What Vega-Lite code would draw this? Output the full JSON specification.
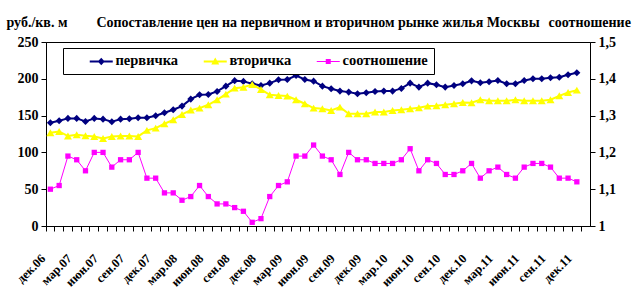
{
  "$schema": "https://vega.github.io/schema/vega-lite/v6.json",
  "width": 544,
  "height": 184,
  "autosize": {"type": "none"},
  "padding": {"left": 46, "top": 42, "right": 46, "bottom": 66},
  "background": "white",
  "title": {
    "text": "Сопоставление цен на первичном и вторичном рынке жилья Москвы",
    "anchor": "middle",
    "frame": "group",
    "font": "Liberation Serif",
    "fontSize": 14,
    "fontWeight": "bold",
    "color": "black",
    "offset": 4,
    "dy": 19
  },
  "config": {
    "locale": {"number": {"decimal": ",", "thousands": " ", "grouping": [3], "currency": ["", ""]}},
    "view": {"stroke": "black", "strokeWidth": 1},
    "axis": {
      "domainColor": "black",
      "tickColor": "black",
      "labelColor": "black",
      "titleColor": "black",
      "labelFont": "Liberation Serif",
      "titleFont": "Liberation Serif",
      "labelFontWeight": "bold",
      "titleFontWeight": "bold",
      "grid": false
    }
  },
  "data": {
    "values": [
      {"month": "дек.06", "primary": 140.3, "secondary": 126.7, "ratio": 1.10},
      {"month": "янв.07", "primary": 143.0, "secondary": 128.5, "ratio": 1.11},
      {"month": "фев.07", "primary": 146.2, "secondary": 122.2, "ratio": 1.19},
      {"month": "мар.07", "primary": 146.2, "secondary": 124.0, "ratio": 1.18},
      {"month": "апр.07", "primary": 142.1, "secondary": 122.6, "ratio": 1.15},
      {"month": "май.07", "primary": 146.2, "secondary": 121.7, "ratio": 1.20},
      {"month": "июн.07", "primary": 145.2, "secondary": 119.0, "ratio": 1.20},
      {"month": "июл.07", "primary": 141.6, "secondary": 121.7, "ratio": 1.16},
      {"month": "авг.07", "primary": 145.2, "secondary": 122.2, "ratio": 1.18},
      {"month": "сен.07", "primary": 145.7, "secondary": 122.2, "ratio": 1.18},
      {"month": "окт.07", "primary": 147.1, "secondary": 121.7, "ratio": 1.20},
      {"month": "ноя.07", "primary": 147.1, "secondary": 129.9, "ratio": 1.13},
      {"month": "дек.07", "primary": 149.8, "secondary": 133.0, "ratio": 1.13},
      {"month": "янв.08", "primary": 153.8, "secondary": 138.9, "ratio": 1.09},
      {"month": "фев.08", "primary": 157.9, "secondary": 144.3, "ratio": 1.09},
      {"month": "мар.08", "primary": 162.9, "secondary": 151.6, "ratio": 1.07},
      {"month": "апр.08", "primary": 172.4, "secondary": 157.5, "ratio": 1.08},
      {"month": "май.08", "primary": 178.3, "secondary": 160.2, "ratio": 1.11},
      {"month": "июн.08", "primary": 178.7, "secondary": 164.7, "ratio": 1.08},
      {"month": "июл.08", "primary": 182.8, "secondary": 171.5, "ratio": 1.06},
      {"month": "авг.08", "primary": 190.0, "secondary": 179.2, "ratio": 1.06},
      {"month": "сен.08", "primary": 197.5, "secondary": 187.3, "ratio": 1.05},
      {"month": "окт.08", "primary": 196.5, "secondary": 188.5, "ratio": 1.04},
      {"month": "ноя.08", "primary": 193.2, "secondary": 192.3, "ratio": 1.01},
      {"month": "дек.08", "primary": 191.0, "secondary": 185.5, "ratio": 1.02},
      {"month": "янв.09", "primary": 194.1, "secondary": 178.3, "ratio": 1.08},
      {"month": "фев.09", "primary": 198.6, "secondary": 177.4, "ratio": 1.11},
      {"month": "мар.09", "primary": 199.1, "secondary": 176.5, "ratio": 1.12},
      {"month": "апр.09", "primary": 204.5, "secondary": 171.5, "ratio": 1.19},
      {"month": "май.09", "primary": 199.1, "secondary": 166.1, "ratio": 1.19},
      {"month": "июн.09", "primary": 196.8, "secondary": 160.2, "ratio": 1.22},
      {"month": "июл.09", "primary": 190.0, "secondary": 159.3, "ratio": 1.19},
      {"month": "авг.09", "primary": 186.4, "secondary": 157.0, "ratio": 1.18},
      {"month": "сен.09", "primary": 183.3, "secondary": 161.5, "ratio": 1.14},
      {"month": "окт.09", "primary": 181.9, "secondary": 152.5, "ratio": 1.20},
      {"month": "ноя.09", "primary": 179.6, "secondary": 152.5, "ratio": 1.18},
      {"month": "дек.09", "primary": 181.0, "secondary": 152.5, "ratio": 1.18},
      {"month": "янв.10", "primary": 182.8, "secondary": 154.8, "ratio": 1.17},
      {"month": "фев.10", "primary": 183.3, "secondary": 154.8, "ratio": 1.17},
      {"month": "мар.10", "primary": 183.3, "secondary": 157.0, "ratio": 1.17},
      {"month": "апр.10", "primary": 186.9, "secondary": 157.9, "ratio": 1.18},
      {"month": "май.10", "primary": 194.1, "secondary": 159.3, "ratio": 1.21},
      {"month": "июн.10", "primary": 188.7, "secondary": 160.6, "ratio": 1.15},
      {"month": "июл.10", "primary": 194.1, "secondary": 162.9, "ratio": 1.18},
      {"month": "авг.10", "primary": 191.9, "secondary": 163.3, "ratio": 1.17},
      {"month": "сен.10", "primary": 188.7, "secondary": 164.7, "ratio": 1.14},
      {"month": "окт.10", "primary": 190.9, "secondary": 166.1, "ratio": 1.14},
      {"month": "ноя.10", "primary": 193.2, "secondary": 167.9, "ratio": 1.15},
      {"month": "дек.10", "primary": 197.2, "secondary": 167.4, "ratio": 1.17},
      {"month": "янв.11", "primary": 194.6, "secondary": 171.5, "ratio": 1.13},
      {"month": "фев.11", "primary": 195.9, "secondary": 170.1, "ratio": 1.15},
      {"month": "мар.11", "primary": 197.7, "secondary": 170.1, "ratio": 1.16},
      {"month": "апр.11", "primary": 193.2, "secondary": 170.1, "ratio": 1.14},
      {"month": "май.11", "primary": 193.2, "secondary": 171.5, "ratio": 1.13},
      {"month": "июн.11", "primary": 197.7, "secondary": 170.1, "ratio": 1.16},
      {"month": "июл.11", "primary": 200.0, "secondary": 170.1, "ratio": 1.17},
      {"month": "авг.11", "primary": 200.0, "secondary": 170.1, "ratio": 1.17},
      {"month": "сен.11", "primary": 201.4, "secondary": 171.5, "ratio": 1.16},
      {"month": "окт.11", "primary": 202.0, "secondary": 176.9, "ratio": 1.13},
      {"month": "ноя.11", "primary": 205.5, "secondary": 181.4, "ratio": 1.13},
      {"month": "дек.11", "primary": 208.1, "secondary": 184.6, "ratio": 1.12}
    ]
  },
  "encoding": {
    "x": {
      "field": "month",
      "type": "ordinal",
      "bandPosition": 0.5,
      "scale": {
        "type": "band",
        "paddingInner": 0,
        "paddingOuter": 0,
        "domain": ["дек.06","янв.07","фев.07","мар.07","апр.07","май.07","июн.07","июл.07","авг.07","сен.07","окт.07","ноя.07","дек.07","янв.08","фев.08","мар.08","апр.08","май.08","июн.08","июл.08","авг.08","сен.08","окт.08","ноя.08","дек.08","янв.09","фев.09","мар.09","апр.09","май.09","июн.09","июл.09","авг.09","сен.09","окт.09","ноя.09","дек.09","янв.10","фев.10","мар.10","апр.10","май.10","июн.10","июл.10","авг.10","сен.10","окт.10","ноя.10","дек.10","янв.11","фев.11","мар.11","апр.11","май.11","июн.11","июл.11","авг.11","сен.11","окт.11","ноя.11","дек.11","янв.12"]
      },
      "axis": {
        "title": null,
        "bandPosition": 0,
        "labelExpr": "(slice(datum.label, 0, 3) == 'дек' || slice(datum.label, 0, 3) == 'мар' || slice(datum.label, 0, 3) == 'июн' || slice(datum.label, 0, 3) == 'сен') ? datum.label : ''",
        "labelAngle": -45,
        "labelAlign": "right",
        "labelBaseline": "middle",
        "labelFontSize": 12.5,
        "labelPadding": 25,
        "labelOffset": -7,
        "labelOverlap": false,
        "labelBound": false,
        "tickSize": 5
      }
    }
  },
  "layer": [
    {
      "layer": [
        {
          "mark": {"type": "line", "color": "#000080", "strokeWidth": 2,
                   "point": {"shape": "diamond", "size": 50, "filled": true, "color": "#000080"}},
          "encoding": {
            "y": {"field": "primary", "type": "quantitative",
                  "scale": {"domain": [0, 250], "nice": false, "zero": true},
                  "axis": {"title": "руб./кв. м", "values": [0, 50, 100, 150, 200, 250],
                           "labelFontSize": 14, "labelPadding": 3, "tickSize": 5,
                           "titleAngle": 0, "titleX": -40, "titleY": -20, "titleAlign": "left",
                           "titleBaseline": "middle", "titleFontSize": 14}}
          }
        },
        {
          "mark": {"type": "line", "color": "#FFFF00", "strokeWidth": 2,
                   "point": {"shape": "triangle-up", "size": 64, "filled": true, "color": "#FFFF00"}},
          "encoding": {
            "y": {"field": "secondary", "type": "quantitative",
                  "scale": {"domain": [0, 250], "nice": false, "zero": true},
                  "axis": {"title": "руб./кв. м", "values": [0, 50, 100, 150, 200, 250],
                           "labelFontSize": 14, "labelPadding": 3, "tickSize": 5,
                           "titleAngle": 0, "titleX": -40, "titleY": -20, "titleAlign": "left",
                           "titleBaseline": "middle", "titleFontSize": 14}}
          }
        }
      ]
    },
    {
      "mark": {"type": "line", "color": "#FF00FF", "strokeWidth": 1,
               "point": {"shape": "square", "size": 28, "filled": true, "color": "#FF00FF"}},
      "encoding": {
        "y": {"field": "ratio", "type": "quantitative",
              "scale": {"domain": [1, 1.5], "nice": false, "zero": false},
              "axis": {"orient": "right", "title": "соотношение", "values": [1, 1.1, 1.2, 1.3, 1.4, 1.5],
                       "format": ".2~f", "labelFontSize": 14, "labelPadding": 3, "tickSize": 5,
                       "titleAngle": 0, "titleX": -42, "titleY": -20, "titleAlign": "left",
                       "titleBaseline": "middle", "titleFontSize": 14}}
      }
    },
    {
      "transform": [{"filter": "false"}],
      "mark": {"type": "point", "filled": true, "opacity": 1},
      "encoding": {
        "fill": {
          "field": "series", "type": "nominal",
          "scale": {"domain": ["первичка", "вторичка", "соотношение"], "range": ["#000080", "#FFFF00", "#FF00FF"]},
          "legend": {
            "title": " ",
            "titleOrient": "left",
            "titlePadding": 25,
            "orient": "none",
            "legendX": 17,
            "legendY": 6,
            "direction": "horizontal",
            "padding": 6,
            "strokeColor": "black",
            "fillColor": "white",
            "labelFont": "Liberation Serif",
            "labelFontWeight": "bold",
            "labelFontSize": 14.5,
            "labelColor": "black",
            "labelOffset": 7,
            "columnPadding": 24,
            "symbolSize": 100,
            "symbolStrokeWidth": 0
          }
        },
        "shape": {
          "field": "series", "type": "nominal",
          "scale": {"domain": ["первичка", "вторичка", "соотношение"],
                    "range": ["M-2.3,-0.2H2.3V0.2H-2.3Z M0,-0.75L0.7,0L0,0.75L-0.7,0Z",
                              "M-2.3,-0.2H2.3V0.2H-2.3Z M0,-0.8L0.8,0.6L-0.8,0.6Z",
                              "M-2.3,-0.1H2.3V0.1H-2.3Z M-0.5,-0.5H0.5V0.5H-0.5Z"]}
        }
      }
    }
  ],
  "resolve": {"scale": {"y": "independent"}, "axis": {"y": "independent"}}
}
